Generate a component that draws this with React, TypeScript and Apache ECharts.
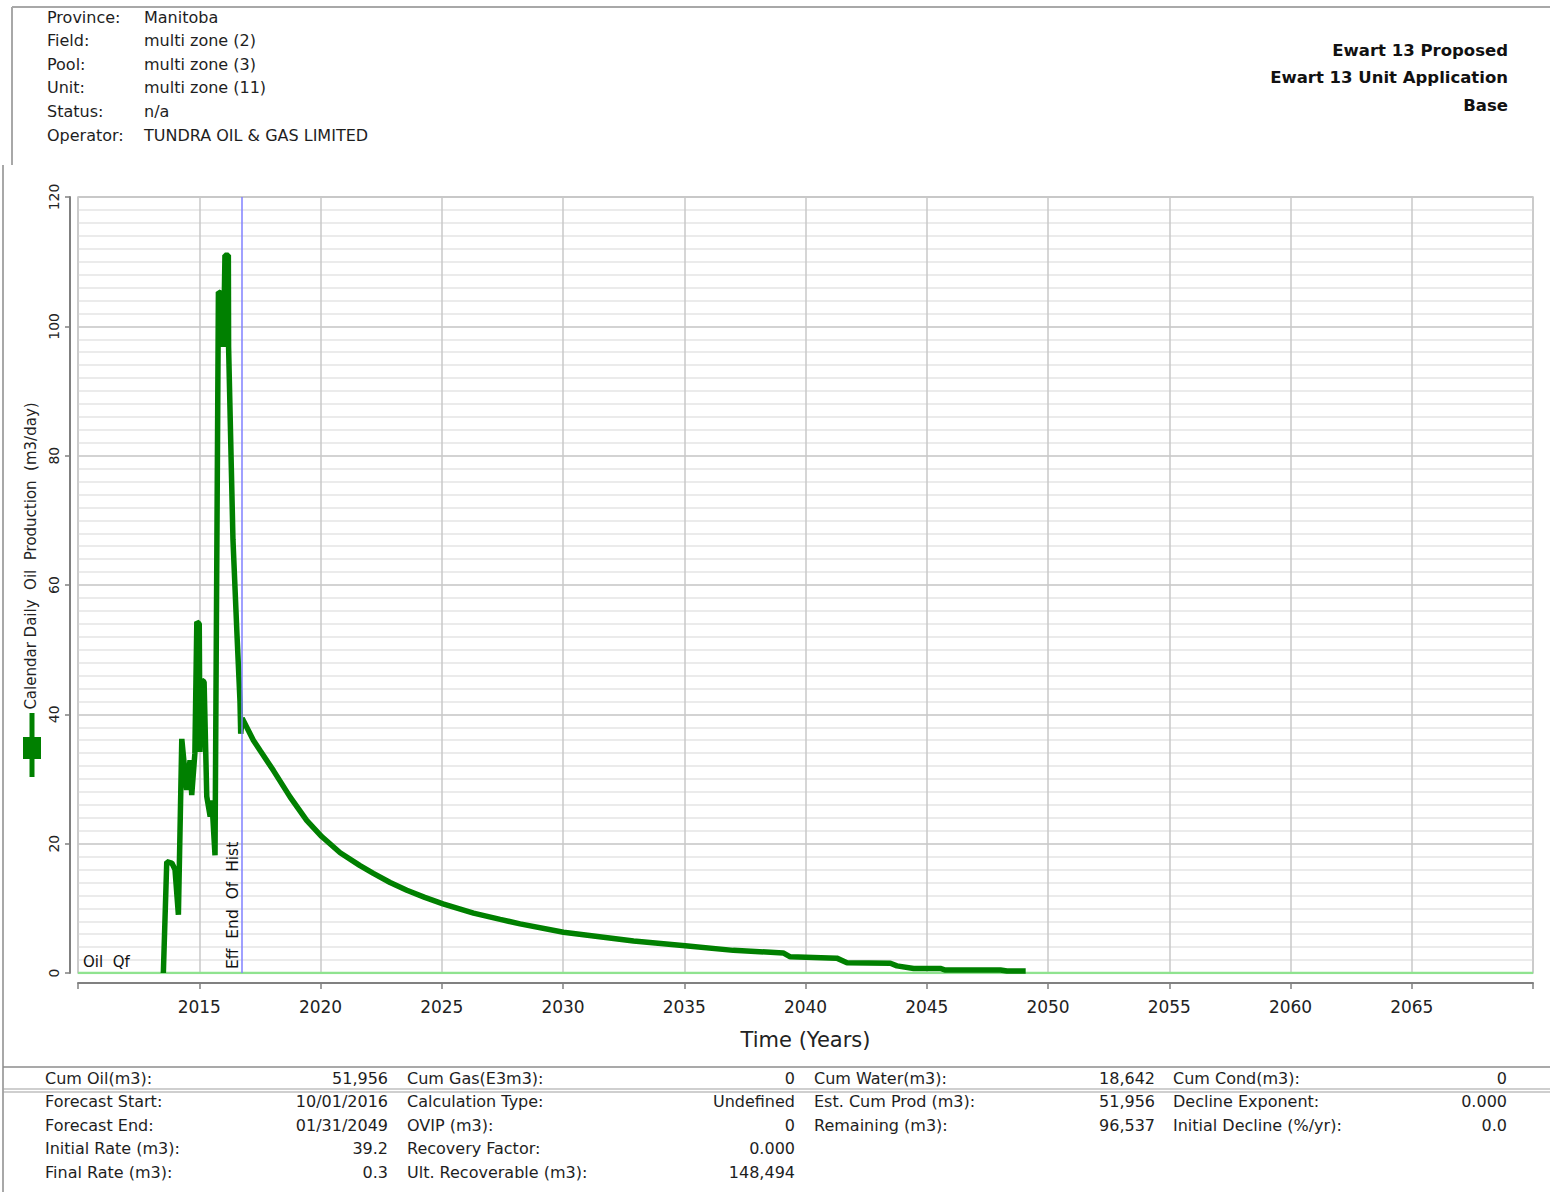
import React, { useEffect, useRef } from "react";
import * as echarts from "echarts";

// ---------- data ----------
const historyYears = [
  2013.52, 2013.66, 2013.87, 2014.0, 2014.14, 2014.28, 2014.48, 2014.62, 2014.69, 2014.82,
  2014.9, 2015.0, 2015.03, 2015.1, 2015.2, 2015.31, 2015.45, 2015.52, 2015.65, 2015.79,
  2015.97, 2016.0, 2016.06, 2016.2, 2016.21, 2016.39, 2016.56, 2016.68, 2016.71,
];
const historyRates = [
  0, 17.2, 17, 16, 9, 36.2, 28.3, 32.9, 27.5, 34,
  54.3, 54, 34.2, 45.3, 45, 27.3, 24.2, 26.7, 18.2, 105.3,
  105, 96.8, 111, 111, 96.8, 67, 52, 42, 37,
];
const forecastYears = [
  2016.77, 2017.23, 2017.51, 2018.06, 2018.75, 2019.43, 2020.05, 2020.81, 2021.63, 2022.18,
  2022.87, 2023.56, 2024.3, 2025.05, 2026.31, 2027.41, 2028.23, 2030.02, 2032.91, 2035.04, 2037.02,
  2039.08, 2039.37, 2041.29, 2041.71, 2043.5, 2043.77, 2044.46, 2045.56, 2045.77, 2048.04,
  2048.31, 2049.08,
];
const forecastRates = [
  39.4, 36.0, 34.4, 31.3, 27.2, 23.6, 21.1, 18.6, 16.6, 15.4,
  14.0, 12.8, 11.7, 10.7, 9.25, 8.3, 7.6, 6.3, 4.95, 4.2, 3.5,
  3.1, 2.5, 2.3, 1.6, 1.5, 1.1, 0.7, 0.7, 0.46, 0.45,
  0.3, 0.3,
];
const xMin = 2010;
const xMax = 2070;
const xInterval = 5;
const yMin = 0;
const yMax = 120;
const yInterval = 20;
const endOfHistoryYear = 2016.75;

const headerLabels = ["Province:", "Field:", "Pool:", "Unit:", "Status:", "Operator:"];
const headerValues = ["Manitoba", "multi zone (2)", "multi zone (3)", "multi zone (11)", "n/a", "TUNDRA OIL & GAS LIMITED"];
const titleLines = ["Ewart 13 Proposed", "Ewart 13 Unit Application", "Base"];

const col1Labels = ["Cum Oil(m3):", "Forecast Start:", "Forecast End:", "Initial Rate (m3):", "Final Rate (m3):"];
const col1Values = ["51,956", "10/01/2016", "01/31/2049", "39.2", "0.3"];
const col2Labels = ["Cum Gas(E3m3):", "Calculation Type:", "OVIP (m3):", "Recovery Factor:", "Ult. Recoverable (m3):"];
const col2Values = ["0", "Undefined", "0", "0.000", "148,494"];
const col3Labels = ["Cum Water(m3):", "Est. Cum Prod (m3):", "Remaining (m3):"];
const col3Values = ["18,642", "51,956", "96,537"];
const col4Labels = ["Cum Cond(m3):", "Decline Exponent:", "Initial Decline (%/yr):"];
const col4Values = ["0", "0.000", "0.0"];

const yAxisTitle = "Calendar Daily  Oil  Production  (m3/day)";
const xAxisTitle = "Time (Years)";
const seriesLabel = "Oil  Qf";
const eventLabel = "Eff  End  Of  Hist";

const FONT = '"DejaVu Sans", Verdana, sans-serif';

export default function App() {
  const ref = useRef<HTMLDivElement>(null);

  useEffect(() => {
    if (!ref.current) return;
    const chart = echarts.init(ref.current, undefined, { renderer: "svg" });

    const mainData = [
      ...historyYears.map((x, i) => [x, historyRates[i]]),
      ...forecastYears.map((x, i) => [x, forecastRates[i]]),
    ];

    chart.setOption({
      animation: false,
      backgroundColor: "#ffffff",
      grid: {
        left: 78,
        right: 17,
        top: 197,
        bottom: 219,
        show: true,
        borderColor: "#c4c4c4",
        borderWidth: 1.5,
        backgroundColor: "transparent",
      },
      xAxis: {
        type: "value",
        min: xMin,
        max: xMax,
        interval: xInterval,
        offset: 10,
        name: xAxisTitle,
        nameLocation: "middle",
        nameGap: 46,
        nameTextStyle: { fontFamily: FONT, fontSize: 21, color: "#222" },
        axisLine: { show: true, onZero: false, lineStyle: { color: "#808080", width: 2 } },
        axisTick: { show: true, length: 6, lineStyle: { color: "#808080", width: 1.5 } },
        axisLabel: {
          margin: 15,
          fontFamily: FONT,
          fontSize: 17,
          color: "#222",
          formatter: (v: number) => (v === xMin || v === xMax ? "" : String(v)),
        },
        splitLine: { show: true, lineStyle: { color: "#c8c8c8", width: 1.5 } },
      },
      yAxis: {
        type: "value",
        min: yMin,
        max: yMax,
        interval: yInterval,
        offset: 8,
        axisLine: { show: true, lineStyle: { color: "#808080", width: 2 } },
        axisTick: { show: true, length: 5, lineStyle: { color: "#808080", width: 1.5 } },
        axisLabel: { rotate: 90, margin: 9, fontFamily: FONT, fontSize: 14, color: "#222" },
        splitLine: { show: true, lineStyle: { color: "#c4c4c4", width: 1.5 } },
        minorTick: { show: false, splitNumber: 10 },
        minorSplitLine: { show: true, lineStyle: { color: "#e4e4e4", width: 1.5 } },
      },
      series: [
        {
          type: "line",
          name: "Oil Qf baseline",
          data: [
            [xMin, 0],
            [xMax, 0],
          ],
          showSymbol: false,
          symbol: "none",
          lineStyle: { color: "#8fe38f", width: 2.5 },
          silent: true,
          z: 2,
          markLine: {
            silent: true,
            symbol: "none",
            label: { show: false },
            lineStyle: { color: "#8080ff", width: 1.5, type: "solid" },
            data: [{ xAxis: endOfHistoryYear }],
          },
        },
        {
          type: "line",
          name: "Oil Qf",
          data: mainData,
          showSymbol: false,
          symbol: "none",
          lineStyle: { color: "#008000", width: 5.5 },
          silent: true,
          z: 3,
        },
      ],
    });

    const origin = chart.convertToPixel({ gridIndex: 0 }, [xMin, 0]) as number[];
    const eoh = chart.convertToPixel({ gridIndex: 0 }, [endOfHistoryYear, 0]) as number[];

    const graphics: any[] = [];
    const txt = (
      text: string,
      x: number,
      y: number,
      opts: { size?: number; weight?: string; align?: string; vAlign?: string; color?: string; rotation?: number } = {}
    ) => {
      graphics.push({
        type: "text",
        x,
        y,
        rotation: opts.rotation || 0,
        silent: true,
        style: {
          text,
          fill: opts.color || "#1e1e1e",
          fontFamily: FONT,
          fontSize: opts.size || 15,
          fontWeight: opts.weight || "normal",
          textAlign: opts.align || "left",
          textVerticalAlign: opts.vAlign || "middle",
        },
      });
    };
    const line = (x1: number, y1: number, x2: number, y2: number, color = "#a0a0a0", w = 1.5) => {
      graphics.push({
        type: "line",
        silent: true,
        shape: { x1, y1, x2, y2 },
        style: { stroke: color, lineWidth: w },
      });
    };

    // frames
    line(12, 7, 1550, 7, "#a8a8a8", 2);
    line(12, 7, 12, 165, "#a8a8a8", 2);
    line(3, 165, 3, 1192, "#a8a8a8", 2);
    line(3, 1067, 1550, 1067, "#8c8c8c", 1.5);
    line(3, 1089, 1550, 1089, "#a0a0a0", 1.2);
    line(3, 1092, 1550, 1092, "#a0a0a0", 1.2);

    // header
    headerLabels.forEach((l, i) => {
      const y = 17 + i * 23.6;
      txt(l, 47, y, { size: 16 });
      txt(headerValues[i], 144, y, { size: 16 });
    });
    titleLines.forEach((t, i) => {
      txt(t, 1508, 50 + i * 27.5, { size: 16.5, weight: "bold", align: "right", color: "#111" });
    });

    // table
    const cols = [
      { labels: col1Labels, values: col1Values, lx: 45, vx: 388 },
      { labels: col2Labels, values: col2Values, lx: 407, vx: 795 },
      { labels: col3Labels, values: col3Values, lx: 814, vx: 1155 },
      { labels: col4Labels, values: col4Values, lx: 1173, vx: 1507 },
    ];
    cols.forEach((c) => {
      c.labels.forEach((l, i) => {
        const y = 1078 + i * 23.5;
        txt(l, c.lx, y, { size: 16 });
        txt(c.values[i], c.vx, y, { size: 16, align: "right" });
      });
    });

    // y axis title + legend icon
    txt(yAxisTitle, 31, 556, { size: 15, align: "center", vAlign: "middle", rotation: Math.PI / 2, color: "#222" });
    graphics.push({ type: "rect", silent: true, shape: { x: 29.5, y: 713, width: 5, height: 64 }, style: { fill: "#008000" } });
    graphics.push({ type: "rect", silent: true, shape: { x: 23, y: 737, width: 18, height: 22 }, style: { fill: "#008000" } });

    // in-plot labels
    txt(seriesLabel, origin[0] + 5, origin[1] - 4, { size: 15, vAlign: "bottom", color: "#111" });
    txt(eventLabel, eoh[0] - 1, origin[1] - 4, { size: 15.5, vAlign: "bottom", rotation: Math.PI / 2, color: "#111" });

    chart.setOption({ graphic: { elements: graphics } });

    return () => chart.dispose();
  }, []);

  return (
    <div
      ref={ref}
      style={{ position: "absolute", left: 0, top: 0, width: 1550, height: 1192, background: "#fff" }}
    />
  );
}
